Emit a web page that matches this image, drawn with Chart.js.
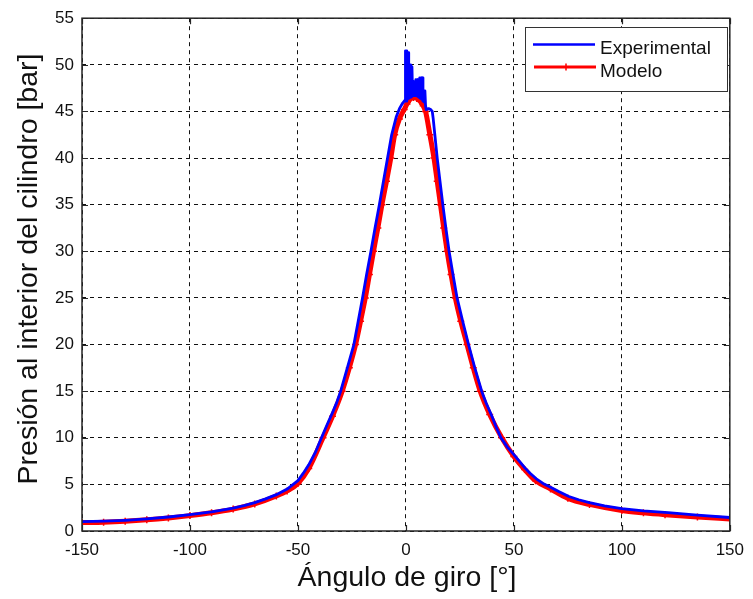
<!DOCTYPE html>
<html>
<head>
<meta charset="utf-8">
<script src="https://cdn.jsdelivr.net/npm/chart.js@4.4.1/dist/chart.umd.min.js"></script>
<style>
  html, body { margin: 0; padding: 0; background: #ffffff; }
  #wrap { width: 753px; height: 599px; }
</style>
</head>
<body>
<div id="wrap"><canvas id="c" width="753" height="599"></canvas></div>
<script>
// Cylinder pressure vs crank angle: measured trace and model.
const expAngle = [
  -150, -140, -130, -120, -110, -100, -90, -80, -75, -70,
  -65, -60, -55, -50, -47.5, -45, -42, -39.1, -36.5, -34,
  -32, -30.2, -27, -24.1, -22.1, -20.1, -18.2, -16.2, -14.3, -12.3,
  -10.4, -8.5, -6.6, -4.5, -3, -1.5,
  -0.4, -0.2, 0.1, 0.4, 0.7, 1.0, 1.3, 1.6, 1.9, 2.2,
  2.5, 2.8, 3.1, 3.4, 3.7, 4.0, 4.3, 4.6, 4.9, 5.2,
  5.5, 5.8, 6.1, 6.4, 6.7, 7.0, 7.3, 7.6, 7.9, 8.2,
  8.5, 8.8, 9.1, 9.4, 10.5, 11.5, 12.2, 12.6, 13.4, 14.5,
  15.8, 17.1, 18.5, 20, 21.8, 23.7, 26.3, 29, 31.9, 35.1,
  37.2, 39.5, 41.7, 44, 47, 50, 52.5, 55, 57.5, 60.4,
  63.5, 67, 71, 75.5, 80, 85, 92, 100, 110, 121.5,
  135, 150
];
const expPressure = [
  1.0, 1.05, 1.15, 1.3, 1.5, 1.75, 2.05, 2.45, 2.72, 3.05,
  3.45, 3.9, 4.5, 5.4, 6.2, 7.1, 8.4, 10.0, 11.4, 12.7,
  13.8, 15.0, 17.6, 20.0, 22.5, 25.0, 27.5, 30.0, 32.5, 35.0,
  37.5, 40.0, 42.5, 44.4, 45.3, 45.9,
  46.2, 51.5, 46.1, 51.5, 46.3, 51.3, 46.4, 50.0, 46.5, 50.0,
  46.6, 49.8, 46.7, 48.2, 46.7, 48.2, 46.7, 48.4, 46.7, 48.4,
  46.6, 48.4, 46.5, 48.6, 46.4, 48.6, 46.3, 48.6, 46.1, 47.2,
  46.0, 47.2, 45.6, 45.2, 45.3, 45.2, 45.0, 44.3, 42.5, 40.0,
  37.5, 35.0, 32.5, 30.0, 27.5, 25.0, 22.5, 20.0, 17.5, 15.0,
  13.7, 12.5, 11.2, 10.0, 9.0, 8.2, 7.5, 6.8, 6.2, 5.6,
  5.1, 4.7, 4.2, 3.7, 3.35, 3.05, 2.7, 2.4, 2.15, 1.96,
  1.7, 1.45
];
const modAngle = [
  -150, -140, -130, -120, -110, -100, -90, -80, -70, -60,
  -55, -50, -45, -38.4, -34, -29.5, -26.2, -23.3, -21, -18.8,
  -16.9, -15, -13, -11.1, -9, -7, -5.2, -3, -0.8, 0.5,
  2, 3.5, 5, 6.5, 8, 9.1, 11.1, 13, 14.5, 16,
  17.5, 19.1, 20.9, 22.9, 25.4, 28.3, 31.2, 34.4, 38.8, 44.4,
  50, 55, 60, 67, 75, 85, 100, 110, 120, 135,
  150
];
const modPressure = [
  0.9, 0.95, 1.05, 1.2, 1.4, 1.65, 1.95, 2.35, 2.9, 3.75,
  4.3, 5.1, 6.7, 10.0, 12.3, 15.0, 17.5, 20.0, 22.5, 25.0,
  27.5, 30.0, 32.5, 35.0, 37.5, 40.0, 42.5, 44.2, 45.2, 45.8,
  46.3, 46.5, 46.4, 46.1, 45.6, 45.0, 42.5, 40.0, 37.5, 35.0,
  32.5, 30.0, 27.5, 25.0, 22.5, 20.0, 17.5, 15.0, 12.5, 10.0,
  8.0, 6.6, 5.4, 4.5, 3.5, 2.85, 2.2, 1.95, 1.75, 1.5,
  1.3
];
const xTickValues = [-150, -100, -50, 0, 50, 100, 150];
const yTickValues = [0, 5, 10, 15, 20, 25, 30, 35, 40, 45, 50, 55];
const seriesNames = ['Experimental', 'Modelo'];
const xTitle = 'Ángulo de giro [°]';
const yTitle = 'Presión al interior del cilindro [bar]';

const FONT = '"Liberation Sans", Arial, sans-serif';
const BLUE = '#0000ff';
const RED = '#ff0000';

const toPoints = (xs, ys) => xs.map((v, i) => ({ x: v, y: ys[i] }));

// Box around the plot area, inward tick marks, axis titles and the legend box.
const framePlugin = {
  id: 'frame',
  afterDatasetsDraw(chart) {
    const { ctx, chartArea: a, scales: { x, y } } = chart;
    ctx.save();
    ctx.setLineDash([]);
    ctx.strokeStyle = '#262626';
    ctx.lineWidth = 1.5;
    ctx.strokeRect(a.left, a.top, a.right - a.left, a.bottom - a.top);

    const tl = 6;
    ctx.lineWidth = 1.2;
    ctx.beginPath();
    xTickValues.forEach(v => {
      const px = Math.round(x.getPixelForValue(v)) + 0.5;
      ctx.moveTo(px, a.bottom); ctx.lineTo(px, a.bottom - tl);
      ctx.moveTo(px, a.top); ctx.lineTo(px, a.top + tl);
    });
    yTickValues.forEach(v => {
      const py = Math.round(y.getPixelForValue(v)) + 0.5;
      ctx.moveTo(a.left, py); ctx.lineTo(a.left + tl, py);
      ctx.moveTo(a.right, py); ctx.lineTo(a.right - tl, py);
    });
    ctx.stroke();

    // axis titles
    ctx.fillStyle = '#111111';
    ctx.font = '28.5px ' + FONT;
    ctx.textAlign = 'center';
    ctx.textBaseline = 'alphabetic';
    ctx.fillText(xTitle, 407, 586);
    ctx.save();
    ctx.translate(37, 269);
    ctx.rotate(-Math.PI / 2);
    ctx.fillText(yTitle, 0, 0);
    ctx.restore();

    // legend
    const lx = 525, ly = 27, lw = 202, lh = 64;
    ctx.fillStyle = '#ffffff';
    ctx.fillRect(lx, ly, lw, lh);
    ctx.strokeStyle = '#333333';
    ctx.lineWidth = 1;
    ctx.strokeRect(lx + 0.5, ly + 0.5, lw, lh);

    ctx.lineCap = 'butt';
    ctx.strokeStyle = BLUE;
    ctx.lineWidth = 2.7;
    ctx.beginPath(); ctx.moveTo(533, 44.5); ctx.lineTo(595, 44.5); ctx.stroke();
    ctx.strokeStyle = RED;
    ctx.lineWidth = 3;
    ctx.beginPath(); ctx.moveTo(534, 67); ctx.lineTo(596, 67); ctx.stroke();
    ctx.lineWidth = 1.5;
    ctx.beginPath();
    ctx.moveTo(566, 63.5); ctx.lineTo(566, 70.5);
    ctx.moveTo(562.5, 67); ctx.lineTo(569.5, 67);
    ctx.stroke();

    ctx.fillStyle = '#111111';
    ctx.font = '19px ' + FONT;
    ctx.textAlign = 'left';
    ctx.fillText(seriesNames[0], 600, 54);
    ctx.fillText(seriesNames[1], 600, 77);
    ctx.restore();
  }
};

new Chart(document.getElementById('c'), {
  type: 'scatter',
  data: {
    datasets: [
      {
        label: seriesNames[0],
        data: toPoints(expAngle, expPressure),
        showLine: true,
        borderColor: BLUE,
        backgroundColor: BLUE,
        borderWidth: 2.8,
        borderJoinStyle: 'round',
        pointRadius: 0,
        tension: 0
      },
      {
        label: seriesNames[1],
        data: toPoints(modAngle, modPressure),
        showLine: true,
        borderColor: RED,
        backgroundColor: RED,
        borderWidth: 5,
        pointStyle: 'cross',
        pointRadius: 3.5,
        pointBorderWidth: 1.5,
        pointBorderColor: RED,
        cubicInterpolationMode: 'monotone'
      }
    ]
  },
  options: {
    responsive: false,
    animation: false,
    devicePixelRatio: 1,
    layout: { padding: { top: 17, right: 18, left: 0, bottom: 0 } },
    plugins: {
      legend: { display: false },
      tooltip: { enabled: false }
    },
    scales: {
      x: {
        type: 'linear',
        min: -150,
        max: 150,
        afterBuildTicks: s => { s.ticks = xTickValues.map(v => ({ value: v })); },
        afterFit: s => { s.height = 68; },
        grid: { color: '#111111', lineWidth: 1, drawTicks: false },
        border: { display: false, dash: [4, 4] },
        ticks: {
          padding: 9,
          color: '#111111',
          font: { family: FONT, size: 17 },
          maxRotation: 0,
          autoSkip: false
        }
      },
      y: {
        type: 'linear',
        min: 0,
        max: 55,
        afterBuildTicks: s => { s.ticks = yTickValues.map(v => ({ value: v })); },
        afterFit: s => { s.width = 82; },
        grid: { color: '#111111', lineWidth: 1, drawTicks: false },
        border: { display: false, dash: [4, 4] },
        ticks: {
          padding: 8,
          color: '#111111',
          font: { family: FONT, size: 17 },
          autoSkip: false
        }
      }
    }
  },
  plugins: [framePlugin]
});
</script>
</body>
</html>
